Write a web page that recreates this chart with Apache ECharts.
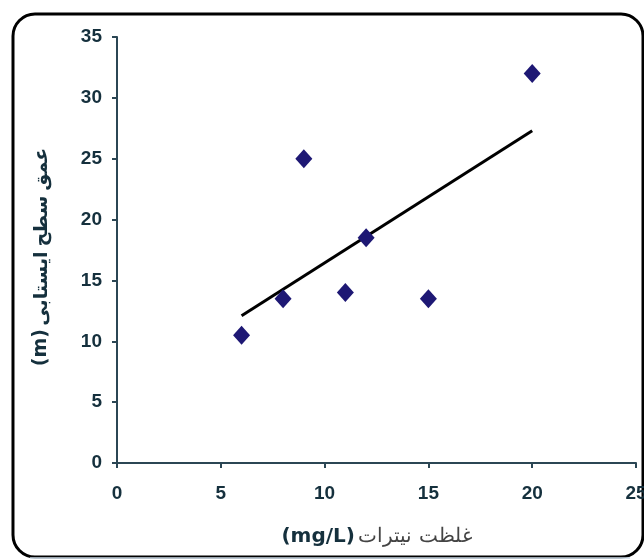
<!DOCTYPE html>
<html>
<head>
<meta charset="utf-8">
<script src="https://cdn.jsdelivr.net/npm/echarts@6/dist/echarts.min.js"></script>
<style>
html,body{margin:0;padding:0;background:#fff;}
#c{width:644px;height:559px;}
</style>
</head>
<body>
<div id="c"></div>
<script>
// Data
var nitrate = [6, 8, 9, 11, 12, 15, 20];
var depth = [10.5, 13.5, 25, 14, 18.5, 13.5, 32];
var trendX = [6, 20];
var trendY = [12.1, 27.3];
var xTicks = [0, 5, 10, 15, 20, 25];
var yTicks = [0, 5, 10, 15, 20, 25, 30, 35];

var points = nitrate.map(function (x, i) { return [x, depth[i]]; });
var trend = trendX.map(function (x, i) { return [x, trendY[i]]; });

var labelColor = '#15303d';
var axisColor = '#2b4654';

var chart = echarts.init(document.getElementById('c'));
chart.setOption({
  animation: false,
  backgroundColor: '#ffffff',
  graphic: [
    {
      type: 'rect', z: -1,
      shape: { x: 13, y: 14, width: 630, height: 543, r: 22 },
      style: { fill: 'none', stroke: '#000000', lineWidth: 3 }
    },
    {
      type: 'line', z: -1,
      shape: { x1: 30, y1: 558, x2: 630, y2: 558 },
      style: { stroke: '#cddbe8', lineWidth: 1.5 }
    }
  ],
  grid: { left: 117, right: 8, top: 37, bottom: 96, containLabel: false, outerBoundsMode: 'none' },
  xAxis: {
    type: 'value',
    min: xTicks[0], max: xTicks[xTicks.length - 1], interval: 5,
    splitLine: { show: false },
    axisLine: { show: true, lineStyle: { color: axisColor, width: 2 } },
    axisTick: { show: true, length: 5, lineStyle: { color: axisColor, width: 2 } },
    axisLabel: { color: labelColor, fontFamily: 'Liberation Sans, Arial', fontWeight: 'bold', fontSize: 19, margin: 21, showMaxLabel: true },
    name: '{b|(mg/L)} {n|غلظت نیترات}',
    nameLocation: 'middle',
    nameGap: 64,
    nameTextStyle: {
      rich: {
        b: { fontFamily: 'DejaVu Sans', fontWeight: 'bold', fontSize: 20, color: labelColor },
        n: { fontFamily: 'DejaVu Serif, Noto Sans', fontSize: 20, color: '#444444' }
      }
    }
  },
  yAxis: {
    type: 'value',
    min: yTicks[0], max: yTicks[yTicks.length - 1], interval: 5,
    splitLine: { show: false },
    axisLine: { show: true, lineStyle: { color: axisColor, width: 2 } },
    axisTick: { show: true, length: 5, lineStyle: { color: axisColor, width: 2 } },
    axisLabel: { color: labelColor, fontFamily: 'Liberation Sans, Arial', fontWeight: 'bold', fontSize: 19, margin: 15 },
    name: '{b|(m)} {n|عمق سطح ایستابی}',
    nameLocation: 'middle',
    nameGap: 66,
    nameRotate: 90,
    nameTextStyle: {
      padding: [0, 14, 0, 0],
      rich: {
        b: { fontFamily: 'DejaVu Sans', fontWeight: 'bold', fontSize: 19, color: labelColor },
        n: { fontFamily: 'Noto Sans, DejaVu Sans', fontWeight: 'bold', fontSize: 19, color: labelColor }
      }
    }
  },
  series: [
    {
      type: 'line',
      data: trend,
      symbol: 'none',
      lineStyle: { color: '#000000', width: 3 },
      z: 2
    },
    {
      type: 'scatter',
      data: points,
      symbol: 'diamond',
      symbolSize: [17, 19],
      itemStyle: { color: '#1e1874', opacity: 1 },
      z: 3
    }
  ]
});
</script>
</body>
</html>
